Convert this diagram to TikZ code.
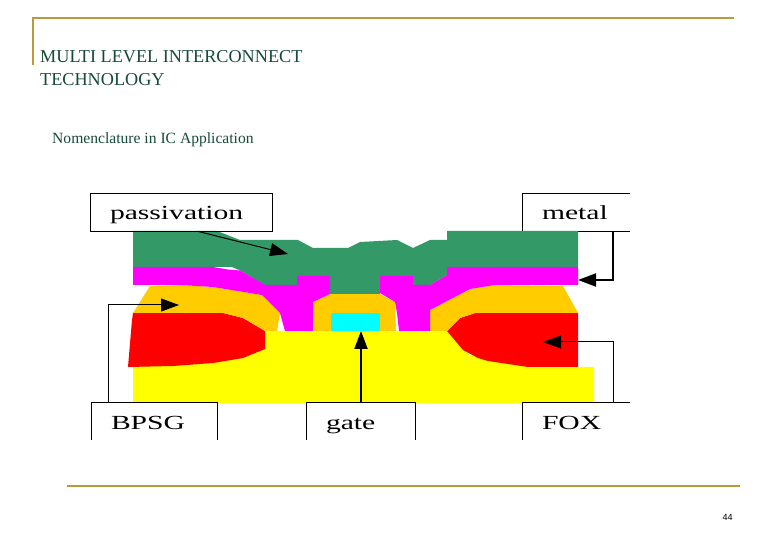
\documentclass[tikz,border=0pt]{standalone}
\usepackage{fontspec}
\setmainfont{Liberation Serif}
\newfontfamily\ictagfont[FakeStretch=1.48]{Liberation Serif}
\newfontfamily\icpagefont{Liberation Sans}
\usepackage{tikz}
\usetikzlibrary{arrows.meta}
\definecolor{icgold}{RGB}{184,155,60}
\definecolor{ictitle}{RGB}{24,74,56}
\definecolor{icgreen}{RGB}{51,153,102}
\definecolor{icmagenta}{RGB}{255,0,255}
\definecolor{icorange}{RGB}{255,204,0}
\definecolor{icyellow}{RGB}{255,255,0}
\definecolor{iccyan}{RGB}{0,255,255}
\definecolor{icred}{RGB}{255,0,0}
\tikzset{
  ictag/.style={inner ysep=0pt, inner xsep=19pt, align=left, text height=26pt, text depth=11pt, font=\ictagfont\fontsize{20}{20}\selectfont},
  icframe/.style={line width=1.2pt, black},
  icrule/.style={line width=2pt, icgold},
  icthin/.style={line width=1pt, black, -{Triangle[length=18pt,width=13pt]}},
  icthick/.style={line width=2pt, black, -{Triangle[length=18pt,width=13pt]}},
}
\newcommand{\ictagnode}[4] {\node at (#1) (#2) [ictag, text width=#3pt-38pt] {#4};}
\newcommand{\iclayer}[2] {\fill [#1] plot coordinates {#2} -- cycle;}
\begin{document}
\begin{tikzpicture}[x=1pt,y=-1pt]
\useasboundingbox (0,0) rectangle (780,540);

\coordinate (ruletop) at (33,18);
\coordinate (ruleleft) at (33,65);
\coordinate (ruletopend) at (734,18);
\coordinate (rulebottom) at (67,486);
\coordinate (rulebottomend) at (740,486);
\draw [icrule] (ruleleft) -- (ruletop) -- (ruletopend);
\draw [icrule] (rulebottom) -- (rulebottomend);

\node [anchor=base west, inner sep=0pt, ictitle, font=\fontsize{18.2}{18.2}\selectfont] at (40,63) (titleone) {MULTI LEVEL INTERCONNECT};
\node [anchor=base west, inner sep=0pt, ictitle, font=\fontsize{18.2}{18.2}\selectfont] at (40,86) (titletwo) {TECHNOLOGY};
\node [anchor=base west, inner sep=0pt, ictitle, font=\fontsize{15.6}{15.6}\selectfont] at (52,144) (subtitle) {Nomenclature in IC Application};
\node [anchor=base, inner sep=0pt, font=\icpagefont\fontsize{9}{9}\selectfont] at (727.5,520) (pagenum) {44};

\ictagnode {576.5,212.5} {metal} {107} {metal};
\draw [icframe] (metal.north east) -- (metal.north west) -- (metal.south west) -- (metal.south east);

% layers, bottom up
\iclayer{icyellow}{(265,331) (447,331) (470,355) (528,367) (594,367) (594,403) (133,403) (133,360)};
\iclayer{icred}{(133,313) (223,313) (243,318) (265,331) (265,349) (243,358) (213,363) (173,366) (128,367) (132,320)};
\iclayer{icred}{(447,331) (460,318) (475,313) (578,313) (578,367) (528,367) (488,361) (478,358) (463,350)};
\iclayer{icorange}{(150,286) (180,285) (213,287) (262,295) (280,313) (277,331) (265,331) (243,318) (223,313) (133,313)};
\iclayer{icorange}{(314,331) (313,302) (330,294) (380,294) (395,302) (396,331)};
\iclayer{icorange}{(430,331) (447,331) (460,318) (475,313) (578,313) (563,286) (495,285) (470,289) (430,310)};
\iclayer{iccyan}{(331,313) (380,313) (380,331) (331,331)};
\iclayer{icgreen}{(133,231) (217,231) (240,240) (298,240) (313,248) (348,248) (360,242) (397,240) (413,248) (430,240) (447,240) (447,231) (578,231) (578,267) (447,267) (447,275) (430,285) (413,285) (413,276) (380,276) (380,294) (330,294) (330,276) (297,276) (297,285) (265,285.5) (240,270.5) (232,267) (133,267)};
\iclayer{icmagenta}{(133,267) (213,267) (228,269.5) (240,270.5) (265,285) (297,285) (297,276) (330,276) (330,294) (313,302) (313,331) (285,331) (280,313) (262,295) (213,287) (180,285) (133,285)};
\iclayer{icmagenta}{(578,267) (447,267) (447,275) (430,285) (413,285) (413,276) (380,276) (380,293) (395,302) (397,313) (399,331) (430,331) (430,310) (470,289) (495,285) (578,285)};

\ictagnode {181.5,212.5} {passivation} {181} {passivation};
\ictagnode {154.5,421.5} {bpsg} {125} {BPSG};
\ictagnode {361,421.5} {gate} {108} {gate};
\ictagnode {576.5,421.5} {fox} {107} {FOX};

\draw [icframe] (passivation.north west) rectangle (passivation.south east);
\draw [icframe] (bpsg.south west) -- (bpsg.north west) -- (bpsg.north east) -- (bpsg.south east);
\draw [icframe] (gate.south west) -- (gate.north west) -- (gate.north east) -- (gate.south east);
\draw [icframe] (fox.south west) -- (fox.north west) -- (fox.north east);

\coordinate (passivationtip) at (288,254);
\coordinate (metaltip) at (578,280);
\coordinate (bpsgtip) at (179,305);
\coordinate (gatetip) at (361,331);
\coordinate (foxtip) at (543,342);

\draw [icthin] (passivation.-50) -- (passivationtip);
\draw [icthick] (metal.-27) |- (metaltip);
\draw [icthin] (bpsg.158) |- (bpsgtip);
\draw [icthick] (gate.north) -- (gatetip);
\draw [icthin] (fox.27) |- (foxtip);
\end{tikzpicture}
\end{document}
